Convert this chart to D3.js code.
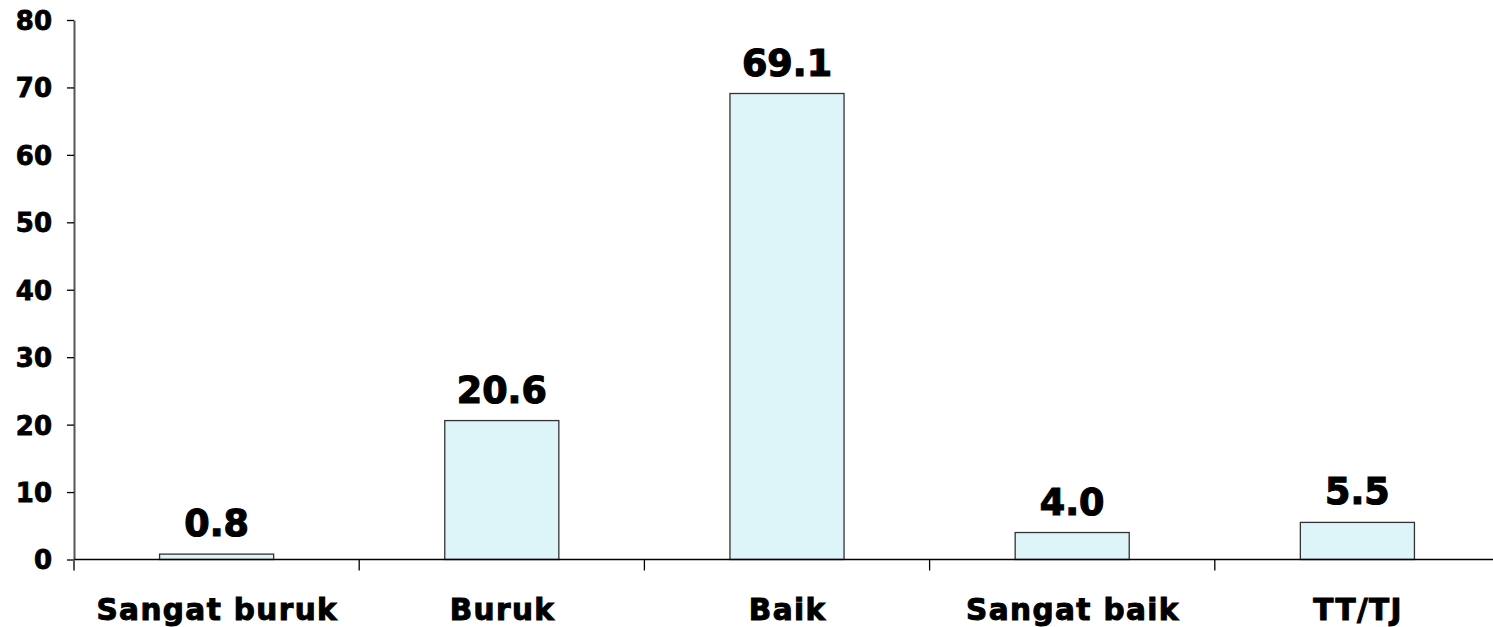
<!DOCTYPE html>
<html>
<head>
<meta charset="utf-8">
<script src="https://cdn.jsdelivr.net/npm/d3@7/dist/d3.min.js"></script>
<style>
  html, body { margin: 0; padding: 0; background: #fff; }
  svg { display: block; }
  text { font-family: "DejaVu Sans", Verdana, sans-serif; font-weight: bold; fill: #000; stroke: #000; paint-order: stroke; }
</style>
</head>
<body>
<svg id="chart" width="1493" height="627"></svg>
<script>
const categories = ["Sangat buruk", "Buruk", "Baik", "Sangat baik", "TT/TJ"];
const values = [0.8, 20.6, 69.1, 4.0, 5.5];
const valueLabels = ["0.8", "20.6", "69.1", "4.0", "5.5"];
const yTicks = [0, 10, 20, 30, 40, 50, 60, 70, 80];

const svg = d3.select("#chart");
const plotLeft = 74, plotTop = 20, plotBottom = 559.5, plotRight = 74 + 5 * 285.2;

const x = d3.scaleBand().domain(categories).range([plotLeft, plotRight]).paddingInner(0).paddingOuter(0);
const y = d3.scaleLinear().domain([0, 80]).range([plotBottom, plotTop]);

const barW = x.bandwidth() * 0.4;

// bars
svg.append("g").selectAll("rect").data(values).join("rect")
  .attr("x", (d, i) => x(categories[i]) + (x.bandwidth() - barW) / 2)
  .attr("y", d => y(d))
  .attr("width", barW)
  .attr("height", d => y(0) - y(d))
  .attr("fill", "#ddf4f8")
  .attr("stroke", "#333")
  .attr("stroke-width", 1.3);

// value labels above the bars
svg.append("g").selectAll("text").data(values).join("text")
  .attr("x", (d, i) => x(categories[i]) + x.bandwidth() / 2)
  .attr("y", d => y(d) - 18)
  .attr("text-anchor", "middle")
  .attr("font-size", 36.5)
  .attr("stroke-width", 1.2)
  .text((d, i) => valueLabels[i]);

// y axis
const yAxis = svg.append("g").attr("transform", `translate(${plotLeft},0)`)
  .call(d3.axisLeft(y).tickValues(yTicks).tickSize(7).tickPadding(15).tickSizeOuter(0));
yAxis.select(".domain").attr("stroke", "#555").attr("stroke-width", 2);
yAxis.selectAll(".tick line").attr("stroke", "#000").attr("stroke-width", 1.3);
yAxis.selectAll(".tick text")
  .attr("font-size", 26).attr("font-family", "DejaVu Sans").attr("font-weight", "bold")
  .attr("fill", "#000").attr("stroke", "#000").attr("stroke-width", 0.8)
  .attr("dy", "0.36em");

// x axis with category boundary ticks
const xAxis = svg.append("g").attr("transform", `translate(0,${plotBottom})`);
xAxis.append("line").attr("x1", plotLeft).attr("x2", plotRight).attr("y1", 0).attr("y2", 0)
  .attr("stroke", "#000").attr("stroke-width", 1.5);
const bounds = categories.map(c => x(c)).slice(1);
xAxis.selectAll("line.tk").data(bounds).join("line").attr("class", "tk")
  .attr("x1", d => d).attr("x2", d => d).attr("y1", 0).attr("y2", 11)
  .attr("stroke", "#000").attr("stroke-width", 1.3);
xAxis.append("line").attr("x1", plotLeft).attr("x2", plotLeft).attr("y1", 0).attr("y2", 11)
  .attr("stroke", "#555").attr("stroke-width", 2);
xAxis.selectAll("text").data(categories).join("text")
  .attr("x", d => x(d) + x.bandwidth() / 2 + 0.7)
  .attr("y", 60.5)
  .attr("text-anchor", "middle")
  .attr("font-size", 29.5)
  .attr("letter-spacing", 1.4)
  .attr("stroke-width", 1)
  .text(d => d);
</script>
</body>
</html>
